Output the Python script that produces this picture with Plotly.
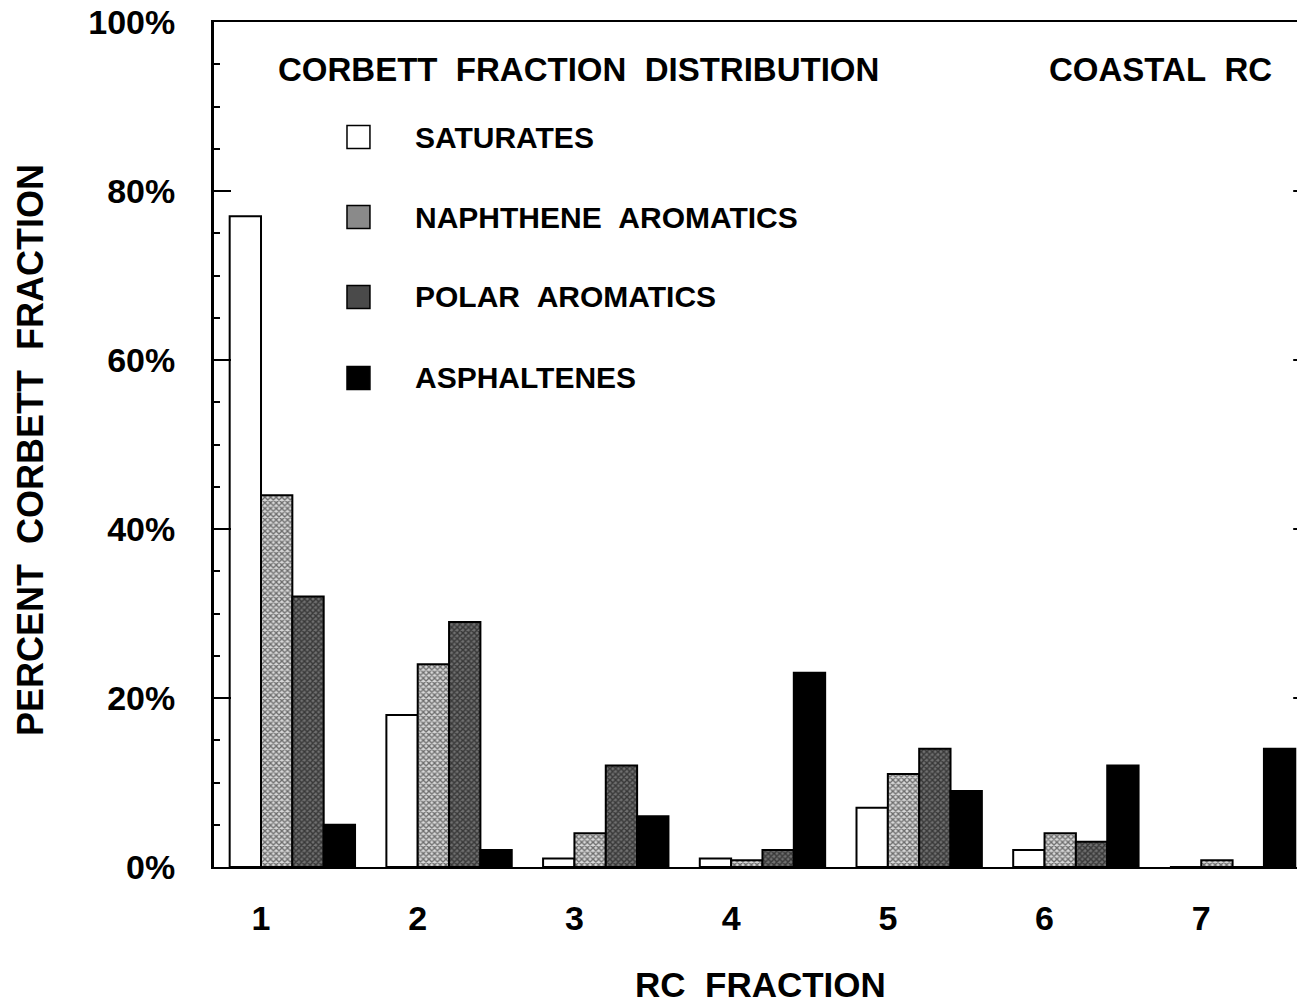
import plotly.graph_objects as go

# RC fraction number for each group of bars
rc_fraction = [1, 2, 3, 4, 5, 6, 7]
tick_labels = ["1", "2", "3", "4", "5", "6", "7"]

# Percent of each Corbett fraction found in each RC fraction
saturates = [77, 18, 1, 1, 7, 2, 0]
naphthene_aromatics = [44, 24, 4, 0.8, 11, 4, 0.8]
polar_aromatics = [32, 29, 12, 2, 14, 3, 0]
asphaltenes = [5, 2, 6, 23, 9, 12, 14]

series_names = ["SATURATES", "NAPHTHENE  AROMATICS", "POLAR  AROMATICS", "ASPHALTENES"]
y_ticks = [0, 20, 40, 60, 80, 100]
y_tick_text = ["0%", "20%", "40%", "60%", "80%", "100%"]

FONT = "Liberation Sans, Arial, Helvetica, sans-serif"
BAR_W = 0.2
NB = "\u00a0"


def wide(s):
    # keep the doubled word gaps of the lettering
    return s.replace("  ", NB + NB)


styles = [
    dict(color="white"),
    dict(color="white", pattern=dict(shape="x", size=4, solidity=0.55, fgcolor="black", bgcolor="#d8d8d8")),
    dict(color="white", pattern=dict(shape="x", size=4, solidity=0.6, fgcolor="black", bgcolor="#707070")),
    dict(color="black"),
]
legend_fill = ["white", "#8a8a8a", "#4a4a4a", "black"]

fig = go.Figure()
for i, (name, vals) in enumerate(zip(series_names,
                                     [saturates, naphthene_aromatics, polar_aromatics, asphaltenes])):
    fig.add_trace(go.Bar(
        x=rc_fraction, y=vals, name=name,
        width=BAR_W, offset=-BAR_W + i * BAR_W,
        marker=dict(line=dict(color="black", width=2), **styles[i]),
        showlegend=False,
    ))

fig.update_layout(
    width=1297, height=1005,
    margin=dict(l=214, r=0, t=22, b=138, pad=0),
    paper_bgcolor="white", plot_bgcolor="white",
    barmode="overlay",
    font=dict(family=FONT, color="black", weight="bold"),
    xaxis=dict(
        range=[0.70, 7.611], tickvals=rc_fraction, ticktext=tick_labels,
        showline=True, linecolor="black", linewidth=2, mirror=True,
        ticks="", showgrid=False, zeroline=False,
        tickfont=dict(size=34, family=FONT, weight="bold"),
        ticklabelstandoff=20,
    ),
    yaxis=dict(
        range=[0, 100], tickvals=y_ticks, ticktext=y_tick_text,
        showline=True, linecolor="black", linewidth=3, mirror=False,
        ticks="inside", ticklen=17, tickwidth=2, tickcolor="black",
        minor=dict(dtick=5, ticks="inside", ticklen=6, tickwidth=2, tickcolor="black"),
        showgrid=False, zeroline=False,
        tickfont=dict(size=34, family=FONT, weight="bold"),
        ticklabelstandoff=29,
    ),
)

# small tick stubs on the right-hand frame
for v in y_ticks[1:-1]:
    fig.add_shape(type="line", xref="paper", yref="y", x0=0.9965, x1=1.0, y0=v, y1=v,
                  line=dict(color="black", width=2))

# legend keys and labels
legend_y = [0.8639, 0.7692, 0.6746, 0.5787]
for name, fill, ly in zip(series_names, legend_fill, legend_y):
    fig.add_shape(type="rect", xref="paper", yref="paper",
                  x0=0.1228, x1=0.1440, y0=ly - 0.0136, y1=ly + 0.0136,
                  fillcolor=fill, line=dict(color="black", width=1.5))
    fig.add_annotation(text=wide(name), xref="paper", yref="paper", x=0.1837, y=ly,
                       xanchor="left", yanchor="middle", showarrow=False,
                       font=dict(size=30, family=FONT, weight="bold"))

fig.add_annotation(text=wide("CORBETT  FRACTION  DISTRIBUTION"), xref="paper", yref="paper",
                   x=0.337, y=0.944, xanchor="center", yanchor="middle", showarrow=False,
                   font=dict(size=33, family=FONT, weight="bold"))
fig.add_annotation(text=wide("COASTAL  RC"), xref="paper", yref="paper",
                   x=0.8744, y=0.944, xanchor="center", yanchor="middle", showarrow=False,
                   font=dict(size=33, family=FONT, weight="bold"))
fig.add_annotation(text=wide("PERCENT  CORBETT  FRACTION"), xref="paper", yref="paper",
                   x=-0.169, y=0.4935, xanchor="center", yanchor="middle", textangle=-90,
                   showarrow=False, font=dict(size=36, family=FONT, weight="bold"))
fig.add_annotation(text=wide("RC  FRACTION"), xref="paper", yref="paper",
                   x=0.505, y=-0.1396, xanchor="center", yanchor="middle",
                   showarrow=False, font=dict(size=35, family=FONT, weight="bold"))

fig.write_html("out.html")
